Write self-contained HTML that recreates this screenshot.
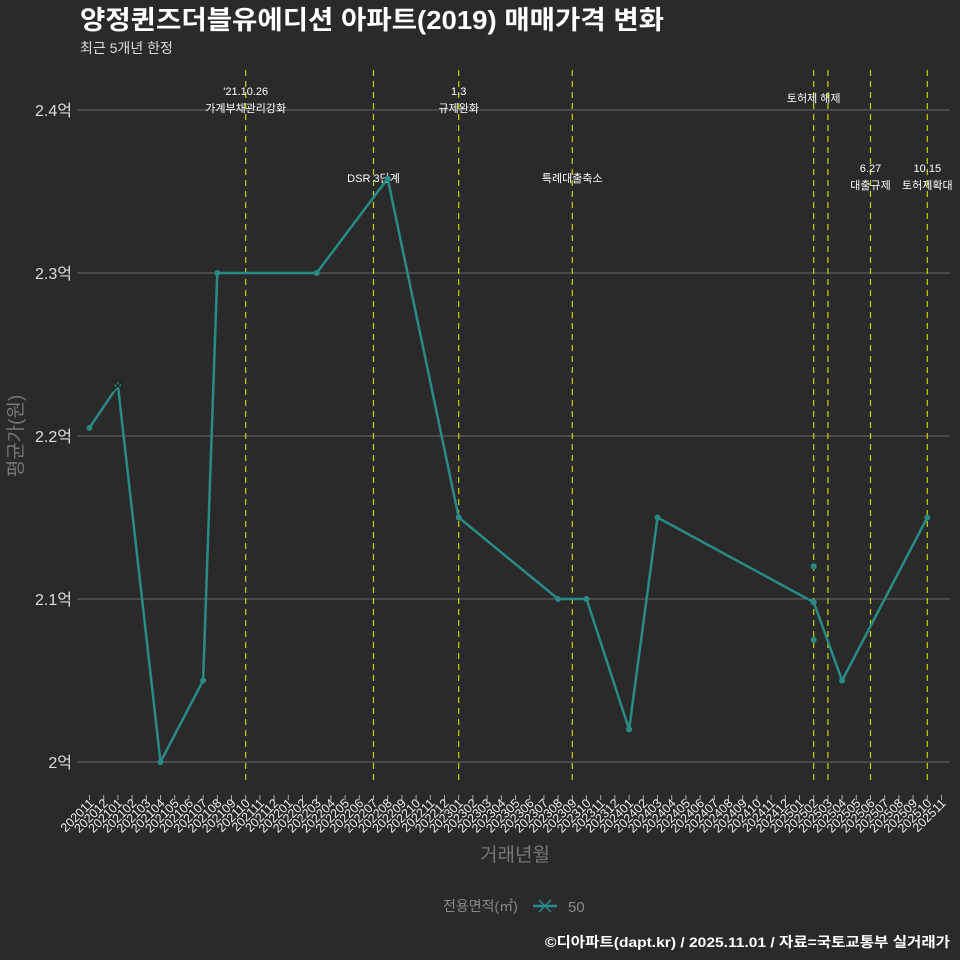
<!DOCTYPE html>
<html><head><meta charset="utf-8">
<style>
body{margin:0;background:#2b2a2b;}
svg{display:block;font-family:"Liberation Sans","Noto Sans CJK KR",sans-serif;}
</style></head>
<body>
<svg id="c" width="960" height="960" viewBox="0 0 960 960">
<rect width="960" height="960" fill="#2b2a2b"/>
<text x="80" y="29" fill="#fff" font-size="26" font-weight="bold" textLength="584" lengthAdjust="spacingAndGlyphs">양정퀸즈더블유에디션 아파트(2019) 매매가격 변화</text>
<text x="80" y="53" fill="#ddd" font-size="14">최근 5개년 한정</text>
<g id="grid"></g><g id="events"></g><g id="series"></g><g id="xaxis"></g>
<text transform="translate(22,436) rotate(-90)" text-anchor="middle" fill="#777" font-size="19">평균가(원)</text>
<text x="515" y="861" text-anchor="middle" fill="#777" font-size="19">거래년월</text>
<g>
<text x="443" y="911" fill="#888" font-size="14">전용면적(㎡)</text>
<line x1="533" y1="906" x2="557" y2="906" stroke="#2a8a84" stroke-width="2.5"/>
<path d="M539 900L551 912M539 912L551 900" stroke="#2a8a84" stroke-width="1.5"/>
<text x="568" y="912" fill="#888" font-size="15">50</text>
</g>
<text x="950" y="947" text-anchor="end" fill="#fff" font-size="14" font-weight="bold" textLength="405" lengthAdjust="spacingAndGlyphs">©디아파트(dapt.kr) / 2025.11.01 / 자료=국토교통부 실거래가</text>
</svg>
<script>
const yTicks=[2.0,2.1,2.2,2.3,2.4];
const yTickLabels=["2억","2.1억","2.2억","2.3억","2.4억"];
const lineMonths=["202011","202101","202104","202107","202108","202203","202208","202301","202308","202310","202401","202403","202502","202504","202510"];
const lineValues=[2.205,2.231,2.0,2.05,2.3,2.3,2.358,2.15,2.1,2.1,2.02,2.15,2.098,2.05,2.15];
const extraMonths=["202502","202502"];
const extraValues=[2.12,2.075];
const crossMonths=["202101"];
const crossValues=[2.231];
const eventMonths=["202110","202207","202301","202309","202502","202503","202506","202510"];
const eventLabels=[["'21.10.26","가계부채관리강화"],["DSR 3단계"],["1.3","규제완화"],["특례대출축소"],["토허제 해제"],[],["6.27","대출규제"],["10.15","토허제확대"]];
const eventLabelY=[91,178,91,178,98,0,168,168];
const ns="http://www.w3.org/2000/svg";
const months=[];for(let y=2020,m=11;months.length<61;){months.push(y+String(m).padStart(2,"0"));m++;if(m>12){m=1;y++;}}
const xs=mo=>89.5+months.indexOf(mo)*14.2;
const ys=v=>762-(v-2.0)*1630;
function el(t,a,p){const e=document.createElementNS(ns,t);for(const k in a)e.setAttribute(k,a[k]);p.appendChild(e);return e;}
const grid=document.getElementById("grid");
yTicks.forEach((v,i)=>{
 const l=el("line",{x1:77,x2:950,y1:ys(v),y2:ys(v),stroke:"#6a6a6a","stroke-width":1},grid);
 
 
 const t=el("text",{x:72,y:ys(v)+6,"text-anchor":"end",fill:"#ddd","font-size":16},grid);
 t.textContent=yTickLabels[i];
 
 
});
const ev=document.getElementById("events");
eventMonths.forEach((mo,i)=>{
 const x=xs(mo);
 const l=el("line",{x1:x,x2:x,y1:70,y2:785,stroke:"#c8d400","stroke-width":1.2,"stroke-dasharray":"6,5"},ev);
 
 
 eventLabels[i].forEach((s,j)=>{
  const t=el("text",{x:x,y:eventLabelY[i]+j*17+4,"text-anchor":"middle",fill:"#fff","font-size":11},ev);
  t.textContent=s;
  
  
 });
});
const se=document.getElementById("series");
const pts=lineMonths.map((m,i)=>xs(m)+","+ys(lineValues[i])).join(" ");
const pl=el("polyline",{points:pts,fill:"none",stroke:"#2a8a84","stroke-width":2.5},se);


lineMonths.forEach((m,i)=>{
 const c=el("circle",{cx:xs(m),cy:ys(lineValues[i]),r:3,fill:"#2a8a84"},se);
 
 
});
extraMonths.forEach((m,i)=>{
 const c=el("circle",{cx:xs(m),cy:ys(extraValues[i]),r:3,fill:"#2a8a84"},se);
 
 
});
crossMonths.forEach((m,i)=>{
 const x=xs(m),y=ys(crossValues[i]);
 const p=el("path",{d:`M${x-6} ${y-6}L${x+6} ${y+6}M${x-6} ${y+6}L${x+6} ${y-6}`,stroke:"#222","stroke-width":1.5},se);
 
 
});
const xa=document.getElementById("xaxis");
months.forEach(mo=>{
 const x=xs(mo);
 const tk=el("line",{x1:x,x2:x,y1:795,y2:800,stroke:"#aaa","stroke-width":1},xa);
 
 
 const t=el("text",{transform:`translate(${x+5},${804}) rotate(-45)`,"text-anchor":"end",fill:"#eee","font-size":12.5},xa);
 t.textContent=mo;
 
 
});
</script>
</body></html>
